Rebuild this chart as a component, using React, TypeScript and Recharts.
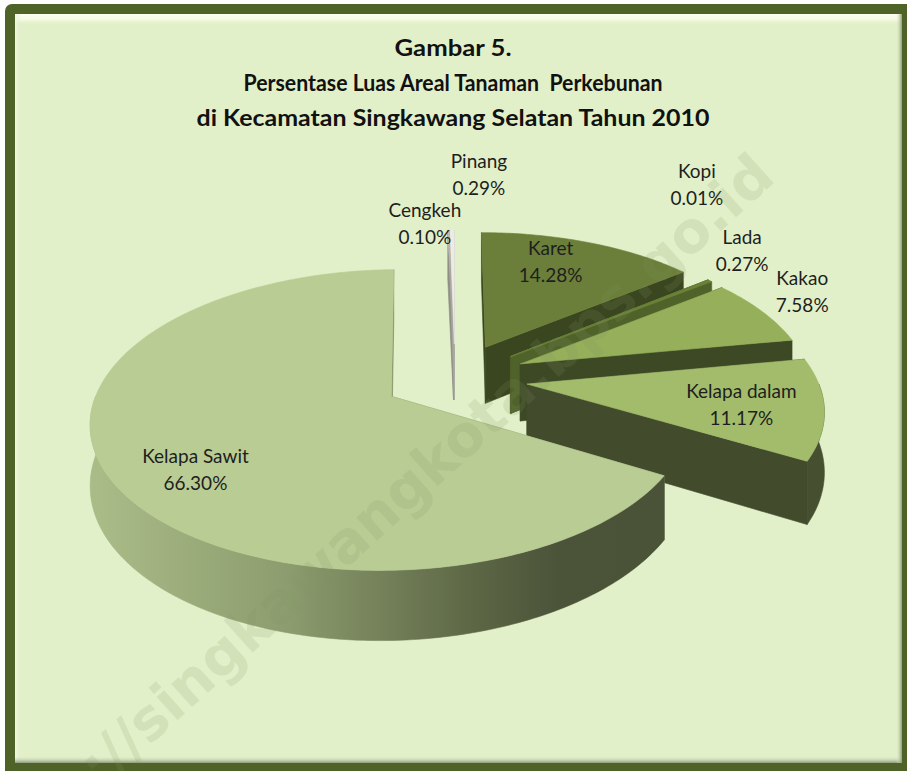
import React from 'react';
import { PieChart, Pie } from 'recharts';

// ---------- data ----------
const titleLines = [
  'Gambar 5.',
  'Persentase Luas Areal Tanaman  Perkebunan',
  'di Kecamatan Singkawang Selatan Tahun 2010',
];
const crops = ['Karet', 'Kopi', 'Lada', 'Kakao', 'Kelapa dalam', 'Kelapa Sawit', 'Cengkeh', 'Pinang'];
const shares = [14.28, 0.01, 0.27, 7.58, 11.17, 66.3, 0.1, 0.29];
const watermarkText = 'http://singkawangkota.bps.go.id';

const data = crops.map((name, i) => ({ name, value: shares[i] }));

// ---------- styles / geometry ----------
const W = 907;
const H = 771;
const CX = 455;
const CY = 378;
const SX = 290; // horizontal radius
const SY = 141; // vertical radius
const PD = 6.5; // perspective distance (in radii)
const EXPLODE = 0.25;
const DEPTH = 58;

type SliceStyle = { top: string; side: string; wall: string; labelR: number; nudge: [number, number] };
const SLICE_STYLE: Record<string, SliceStyle> = {
  Karet: { top: '#6b7f3a', side: '#3a4620', wall: '#3a4620', labelR: 0.6, nudge: [0, -19] },
  Kopi: { top: '#7a9142', side: '#4a5a2a', wall: '#4a5a2a', labelR: 1.15, nudge: [-38, -84] },
  Lada: { top: '#6b8337', side: '#4f622a', wall: '#4f622a', labelR: 1.15, nudge: [5, -20] },
  Kakao: { top: '#96af5a', side: '#3d4925', wall: '#3d4925', labelR: 1.15, nudge: [6, -12] },
  'Kelapa dalam': { top: '#a3bc6b', side: '#434b2d', wall: '#464f30', labelR: 0.72, nudge: [2, 3] },
  'Kelapa Sawit': { top: '#b9cc94', side: '#7d8c62', wall: 'url(#sawitWall)', labelR: 0.75, nudge: [11, 14] },
  Cengkeh: { top: '#bdbdb5', side: '#8e8e86', wall: '#8e8e86', labelR: 1.15, nudge: [-23, 8] },
  Pinang: { top: '#ecece4', side: '#a8a8a0', wall: '#a8a8a0', labelR: 1.15, nudge: [27, -41] },
};

const rad = (d: number) => (d * Math.PI) / 180;

function project(X: number, Z: number, h: number): [number, number] {
  const f = PD / (PD - Z);
  return [CX + SX * X * f, CY + SY * Z * f + h * f];
}

const poly = (pts: [number, number][]) => pts.map((p) => `${p[0].toFixed(2)},${p[1].toFixed(2)}`).join(' ');

function sliceAngles(props: any) {
  const a = 90 - props.startAngle;
  const b = 90 - props.endAngle;
  return [Math.min(a, b), Math.max(a, b)];
}

function renderSlice(props: any) {
  const idx = props.index as number;
  const name = crops[idx];
  const st = SLICE_STYLE[name];
  const [t1, t2] = sliceAngles(props);
  const mid = rad((t1 + t2) / 2);
  const ox = EXPLODE * Math.sin(mid);
  const oz = -EXPLODE * Math.cos(mid);
  const rim = (deg: number, h: number) => project(ox + Math.sin(rad(deg)), oz - Math.cos(rad(deg)), h);
  const apex = (h: number) => project(ox, oz, h);
  const arc = (from: number, to: number, h: number) => {
    const n = Math.max(1, Math.ceil(Math.abs(to - from)));
    const pts: [number, number][] = [];
    for (let i = 0; i <= n; i++) pts.push(rim(from + ((to - from) * i) / n, h));
    return pts;
  };
  const face = (deg: number) => [apex(0), rim(deg, 0), rim(deg, DEPTH), apex(DEPTH)] as [number, number][];
  const f1Front = -Math.sin(rad(t1)) > 0;
  const f2Front = Math.sin(rad(t2)) > 0;
  const ws = Math.max(t1, 90);
  const we = Math.min(t2, 270);
  const wall = ws < we ? [...arc(ws, we, 0), ...arc(we, ws, DEPTH)] : null;
  const top = [apex(0), ...arc(t1, t2, 0)];
  const sw = 0.6;
  const faceEl = (deg: number, k: string) => (
    <polygon key={k} points={poly(face(deg))} fill={st.side} stroke={st.side} strokeWidth={sw} strokeLinejoin="round" />
  );
  const back: React.ReactNode[] = [];
  const front: React.ReactNode[] = [];
  (f1Front ? front : back).push(faceEl(t1, 'f1'));
  (f2Front ? front : back).push(faceEl(t2, 'f2'));
  return (
    <g key={`slice-${idx}`}>
      {idx === 5 && (
        <defs>
          <linearGradient id="sawitWall" gradientUnits="userSpaceOnUse" x1={100} y1={0} x2={640} y2={0}>
            <stop offset="0" stopColor="#a9bb87" />
            <stop offset="0.35" stopColor="#8c9c6e" />
            <stop offset="0.68" stopColor="#5e6846" />
            <stop offset="0.85" stopColor="#4b5339" />
            <stop offset="1" stopColor="#4a5238" />
          </linearGradient>
        </defs>
      )}
      {back}
      {wall && (
        <polygon points={poly(wall)} fill={st.wall} stroke={st.wall} strokeWidth={sw} strokeLinejoin="round" />
      )}
      {front}
      <polygon points={poly(top)} fill={st.top} stroke={st.top} strokeWidth={sw} strokeLinejoin="round" />
    </g>
  );
}

function renderLabel(props: any) {
  const idx = props.index as number;
  const name = crops[idx];
  const st = SLICE_STYLE[name];
  const [t1, t2] = sliceAngles(props);
  const mid = rad((t1 + t2) / 2);
  const t = EXPLODE + st.labelR;
  const [bx, by] = project(t * Math.sin(mid), -t * Math.cos(mid), 0);
  const x = bx + st.nudge[0];
  const y = by + st.nudge[1];
  return (
    <text key={`lbl-${idx}`} textAnchor="middle" fontFamily="Lato, 'Open Sans', sans-serif" fontSize={19} fill="#1e1e1e">
      <tspan x={x} y={y - 7}>{name}</tspan>
      <tspan x={x} y={y + 20}>{`${shares[idx].toFixed(2)}%`}</tspan>
    </text>
  );
}

const titleWidths = [117, 419, 513];

export default function App() {
  return (
    <div style={{ position: 'absolute', left: 0, top: 0, width: W, height: H, overflow: 'hidden', background: '#ffffff' }}>
      <svg width={W} height={H} style={{ position: 'absolute', left: 0, top: 0 }}>
        <defs>
          <linearGradient id="bevTop" x1="0" y1="0" x2="0" y2="1">
            <stop offset="0" stopColor="#fdfdf0" stopOpacity="1" />
            <stop offset="0.5" stopColor="#f8fbe6" stopOpacity="0.9" />
            <stop offset="1" stopColor="#e2f0c9" stopOpacity="0" />
          </linearGradient>
          <linearGradient id="bevLeft" x1="0" y1="0" x2="1" y2="0">
            <stop offset="0" stopColor="#f4f8e2" stopOpacity="1" />
            <stop offset="1" stopColor="#e2f0c9" stopOpacity="0" />
          </linearGradient>
          <linearGradient id="bevBottom" x1="0" y1="0" x2="0" y2="1">
            <stop offset="0" stopColor="#e2f0c9" stopOpacity="0" />
            <stop offset="1" stopColor="#8e9a7c" stopOpacity="1" />
          </linearGradient>
          <linearGradient id="bevRight" x1="0" y1="0" x2="1" y2="0">
            <stop offset="0" stopColor="#e2f0c9" stopOpacity="0" />
            <stop offset="1" stopColor="#8e9a7c" stopOpacity="1" />
          </linearGradient>
        </defs>
        <rect x={5} y={4} width={W + 10} height={H + 10} rx={7} fill="#4f6228" />
        <rect x={15} y={14} width={887} height={749} fill="#e2f0c9" />
        <rect x={15} y={14} width={887} height={11} fill="url(#bevTop)" />
        <rect x={15} y={14} width={6} height={749} fill="url(#bevLeft)" />
        <rect x={15} y={756} width={887} height={7} fill="url(#bevBottom)" />
        <rect x={896} y={14} width={6} height={749} fill="url(#bevRight)" />
        {titleLines.map((line, i) => (
          <text
            key={i}
            x={453}
            y={56 + i * 35}
            textAnchor="middle"
            fontFamily="Lato, 'Open Sans', sans-serif"
            fontWeight="bold"
            fontSize={23}
            fill="#111111"
            textLength={titleWidths[i]}
            lengthAdjust="spacingAndGlyphs"
            style={{ whiteSpace: 'pre' }}
          >
            {line}
          </text>
        ))}
      </svg>
      <div style={{ position: 'absolute', left: 0, top: 0 }}>
        <PieChart width={W} height={H} margin={{ top: 0, right: 0, bottom: 0, left: 0 }}>
          <Pie
            data={data}
            dataKey="value"
            nameKey="name"
            cx={CX}
            cy={CY}
            outerRadius={SX}
            startAngle={90}
            endAngle={-270}
            fill="none"
            stroke="none"
            isAnimationActive={false}
            label={renderSlice}
            labelLine={false}
          />
          <Pie
            data={data}
            dataKey="value"
            nameKey="name"
            cx={CX}
            cy={CY}
            outerRadius={SX}
            startAngle={90}
            endAngle={-270}
            fill="none"
            stroke="none"
            isAnimationActive={false}
            label={renderLabel}
            labelLine={false}
          />
        </PieChart>
      </div>
      <svg width={W} height={H} style={{ position: 'absolute', left: 0, top: 0, pointerEvents: 'none' }}>
        <text
          x={0}
          y={880}
          transform="rotate(-42 0 880)"
          fontFamily="'DejaVu Sans', sans-serif"
          fontWeight="bold"
          fontSize={57}
          fill="rgb(128,150,100)"
          fillOpacity={0.16}
        >
          {watermarkText}
        </text>
      </svg>
    </div>
  );
}
